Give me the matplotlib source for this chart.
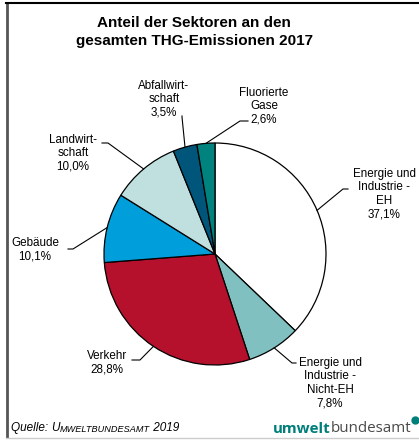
import numpy as np
import matplotlib
matplotlib.use("Agg")
import matplotlib.pyplot as plt

plt.rcParams["font.family"] = ["Liberation Sans", "DejaVu Sans"]

W, H = 419, 442

sectors = ["Energie und\nIndustrie -\nEH", "Energie und\nIndustrie -\nNicht-EH", "Verkehr",
           "Gebäude", "Landwirt-\nschaft", "Abfallwirt-\nschaft", "Fluorierte\nGase"]
shares = [37.1, 7.8, 28.8, 10.1, 10.0, 3.5, 2.6]
colors = ["#ffffff", "#80c0c0", "#b5102c", "#009fdb", "#bfe0df", "#00557a", "#00827f"]
pct_labels = ["37,1%", "7,8%", "28,8%", "10,1%", "10,0%", "3,5%", "2,6%"]

# label placement in pixel coords (x, y from top), elbow points of leader lines
label_pos = [(384, 194), (330, 383), (107, 363), (35, 250), (73, 153), (164, 99), (264, 106)]
elbows = [[(343, 189), (348, 189)], [(292, 363), (296, 363)], [(140, 360), (132, 360)],
          [(73, 249), (68, 249)], [(108, 143), (102, 143)], [(182, 117), (182, 116)],
          [(240, 121), (248, 121)]]


def Y(py):
    return H - py


fig = plt.figure(figsize=(W / 100, H / 100), dpi=100)
ax = fig.add_axes([0, 0, 1, 1])

cx, cy, r = 215, 254, 111
wedges, _ = ax.pie(shares, colors=colors, startangle=90, counterclock=False,
                   center=(cx, Y(cy)), radius=r,
                   wedgeprops=dict(edgecolor="black", linewidth=0.9))

for w, name, pct, (lx, ly), elb in zip(wedges, sectors, pct_labels, label_pos, elbows):
    mid = np.deg2rad((w.theta1 + w.theta2) / 2)
    ex, ey = cx + r * np.cos(mid), Y(cy) + r * np.sin(mid)
    xs = [ex] + [p[0] for p in elb]
    ys = [ey] + [Y(p[1]) for p in elb]
    ax.plot(xs, ys, color="black", lw=0.8)
    ax.text(lx, Y(ly), name + "\n" + pct, ha="center", va="center", fontsize=8.4,
            linespacing=1.15)

ax.set_xlim(0, W)
ax.set_ylim(0, H)
ax.axis("off")

# title
ax.text(194, Y(32), "Anteil der Sektoren an den\ngesamten THG-Emissionen 2017",
        ha="center", va="center", fontsize=11, fontweight="bold", linespacing=1.3)

# frame lines
ax.plot([6.5, 6.5], [Y(3), Y(437)], color="#555555", lw=2)
ax.plot([6, W], [Y(3), Y(3)], color="black", lw=1.5)
ax.plot([6, W], [Y(437.5), Y(437.5)], color="#cccccc", lw=1)

# source line with small caps
t1 = ax.text(11, Y(434), "Quelle: ", fontsize=8.5, style="italic", va="bottom")
t2 = ax.annotate("U", xy=(1, 0), xycoords=t1, fontsize=8.5, style="italic", va="bottom")
t3 = ax.annotate("MWELTBUNDESAMT", xy=(1, 0), xycoords=t2, fontsize=6.6, style="italic",
                 va="bottom")
ax.annotate(" 2019", xy=(1, 0), xycoords=t3, fontsize=8.5, style="italic", va="bottom")

# logo
l1 = ax.text(273, Y(436), "umwelt", fontsize=10.9, fontweight="bold", color="#007f7a",
             family="Open Sans", va="bottom")
l2 = ax.annotate("bundesamt", xy=(1, 0), xycoords=l1, fontsize=10.9, color="#4a4a4a",
                 family="Open Sans", va="bottom")
ax.plot([415], [Y(420)], marker="o", ms=5, color="#007f7a")

fig.savefig("out.png", dpi=100)
